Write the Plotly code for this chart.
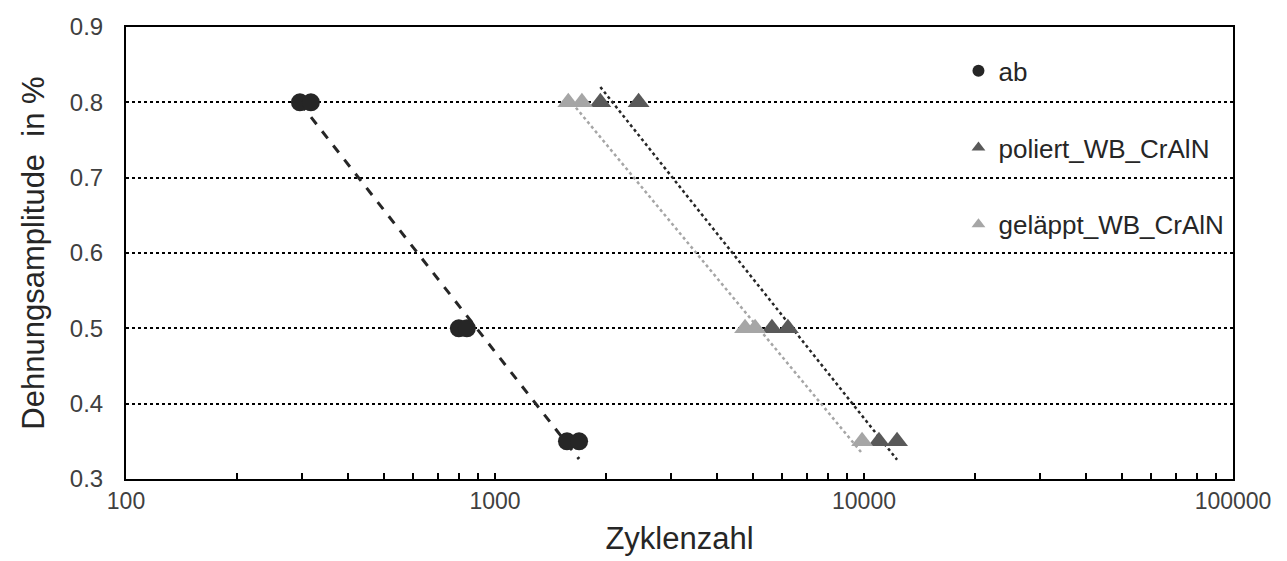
import numpy as np
import plotly.graph_objects as go

# Data
ab_x = [296, 317, 798, 839, 1567, 1690]
ab_y = [0.8, 0.8, 0.5, 0.5, 0.35, 0.35]

pol_x = [1930, 2450, 5630, 6220, 10980, 12290]
pol_y = [0.8, 0.8, 0.5, 0.5, 0.35, 0.35]

gel_x = [1580, 1720, 4760, 5070, 9880]
gel_y = [0.8, 0.8, 0.5, 0.5, 0.35]

x_tickvals = [100, 1000, 10000, 100000]
x_ticktext = ["100", "1000", "10000", "100000"]
y_tickvals = [0.3, 0.4, 0.5, 0.6, 0.7, 0.8, 0.9]

FONT = "Liberation Sans, Arial, sans-serif"


def log_trend(xs, ys):
    """Excel-style logarithmic trendline y = a*ln(x)+b, drawn from min x to max x."""
    lx = np.log10(np.array(xs, dtype=float))
    a, b = np.polyfit(lx, np.array(ys, dtype=float), 1)
    xe = np.array([min(xs), max(xs)], dtype=float)
    return xe, a * np.log10(xe) + b


fig = go.Figure()

# Trendlines
tx, ty = log_trend(ab_x, ab_y)
fig.add_trace(go.Scatter(x=tx, y=ty, mode="lines", showlegend=False,
                         line=dict(color="#262626", width=3, dash="dash"), hoverinfo="skip"))
tx, ty = log_trend(pol_x, pol_y)
fig.add_trace(go.Scatter(x=tx, y=ty, mode="lines", showlegend=False,
                         line=dict(color="#262626", width=2.5, dash="dot"), hoverinfo="skip"))
tx, ty = log_trend(gel_x, gel_y)
fig.add_trace(go.Scatter(x=tx, y=ty, mode="lines", showlegend=False,
                         line=dict(color="#a6a6a6", width=2.5, dash="dot"), hoverinfo="skip"))

# Markers
fig.add_trace(go.Scatter(x=ab_x, y=ab_y, mode="markers", name="ab", legendgroup="a",
                         marker=dict(symbol="circle", size=18, color="#262626")))
fig.add_trace(go.Scatter(x=pol_x, y=pol_y, mode="markers", name="poliert_WB_CrAlN", legendgroup="b",
                         marker=dict(symbol="triangle-up", size=19, color="#595959")))
fig.add_trace(go.Scatter(x=gel_x, y=gel_y, mode="markers", name="geläppt_WB_CrAlN", legendgroup="c",
                         marker=dict(symbol="triangle-up", size=19, color="#a6a6a6")))

fig.update_layout(
    width=1287, height=561,
    margin=dict(l=126, r=54, t=27, b=82),
    paper_bgcolor="white", plot_bgcolor="white",
    font=dict(family=FONT, size=20, color="#404040"),
    showlegend=True,
    legend=dict(x=0.752, y=0.955, xanchor="left", yanchor="top",
                bgcolor="rgba(0,0,0,0)", font=dict(size=26, color="#262626"),
                tracegroupgap=40, itemsizing="constant"),
)

fig.update_xaxes(
    type="log", range=[2, 5],
    tickvals=x_tickvals, ticktext=x_ticktext,
    ticks="inside", ticklen=6, tickcolor="black", tickwidth=1.5,
    minor=dict(ticks="inside", dtick="D1", ticklen=6, tickcolor="black", tickwidth=1.5, showgrid=False),
    showgrid=False, zeroline=False,
    showline=True, linecolor="black", linewidth=2, mirror=True,
    tickfont=dict(size=23, color="#404040"),
    title=dict(text="Zyklenzahl", font=dict(size=31, color="#262626"), standoff=15),
)

fig.update_yaxes(
    range=[0.3, 0.9], tickvals=y_tickvals, tickformat=".1f",
    showgrid=True, gridcolor="black", gridwidth=1.5, griddash="dot",
    zeroline=False, ticks="",
    showline=True, linecolor="black", linewidth=2, mirror=True,
    tickfont=dict(size=24, color="#404040"), ticklabelstandoff=16,
    title=dict(text="Dehnungsamplitude  in %", font=dict(size=31, color="#262626"), standoff=16),
)

fig.write_html("out.html")
